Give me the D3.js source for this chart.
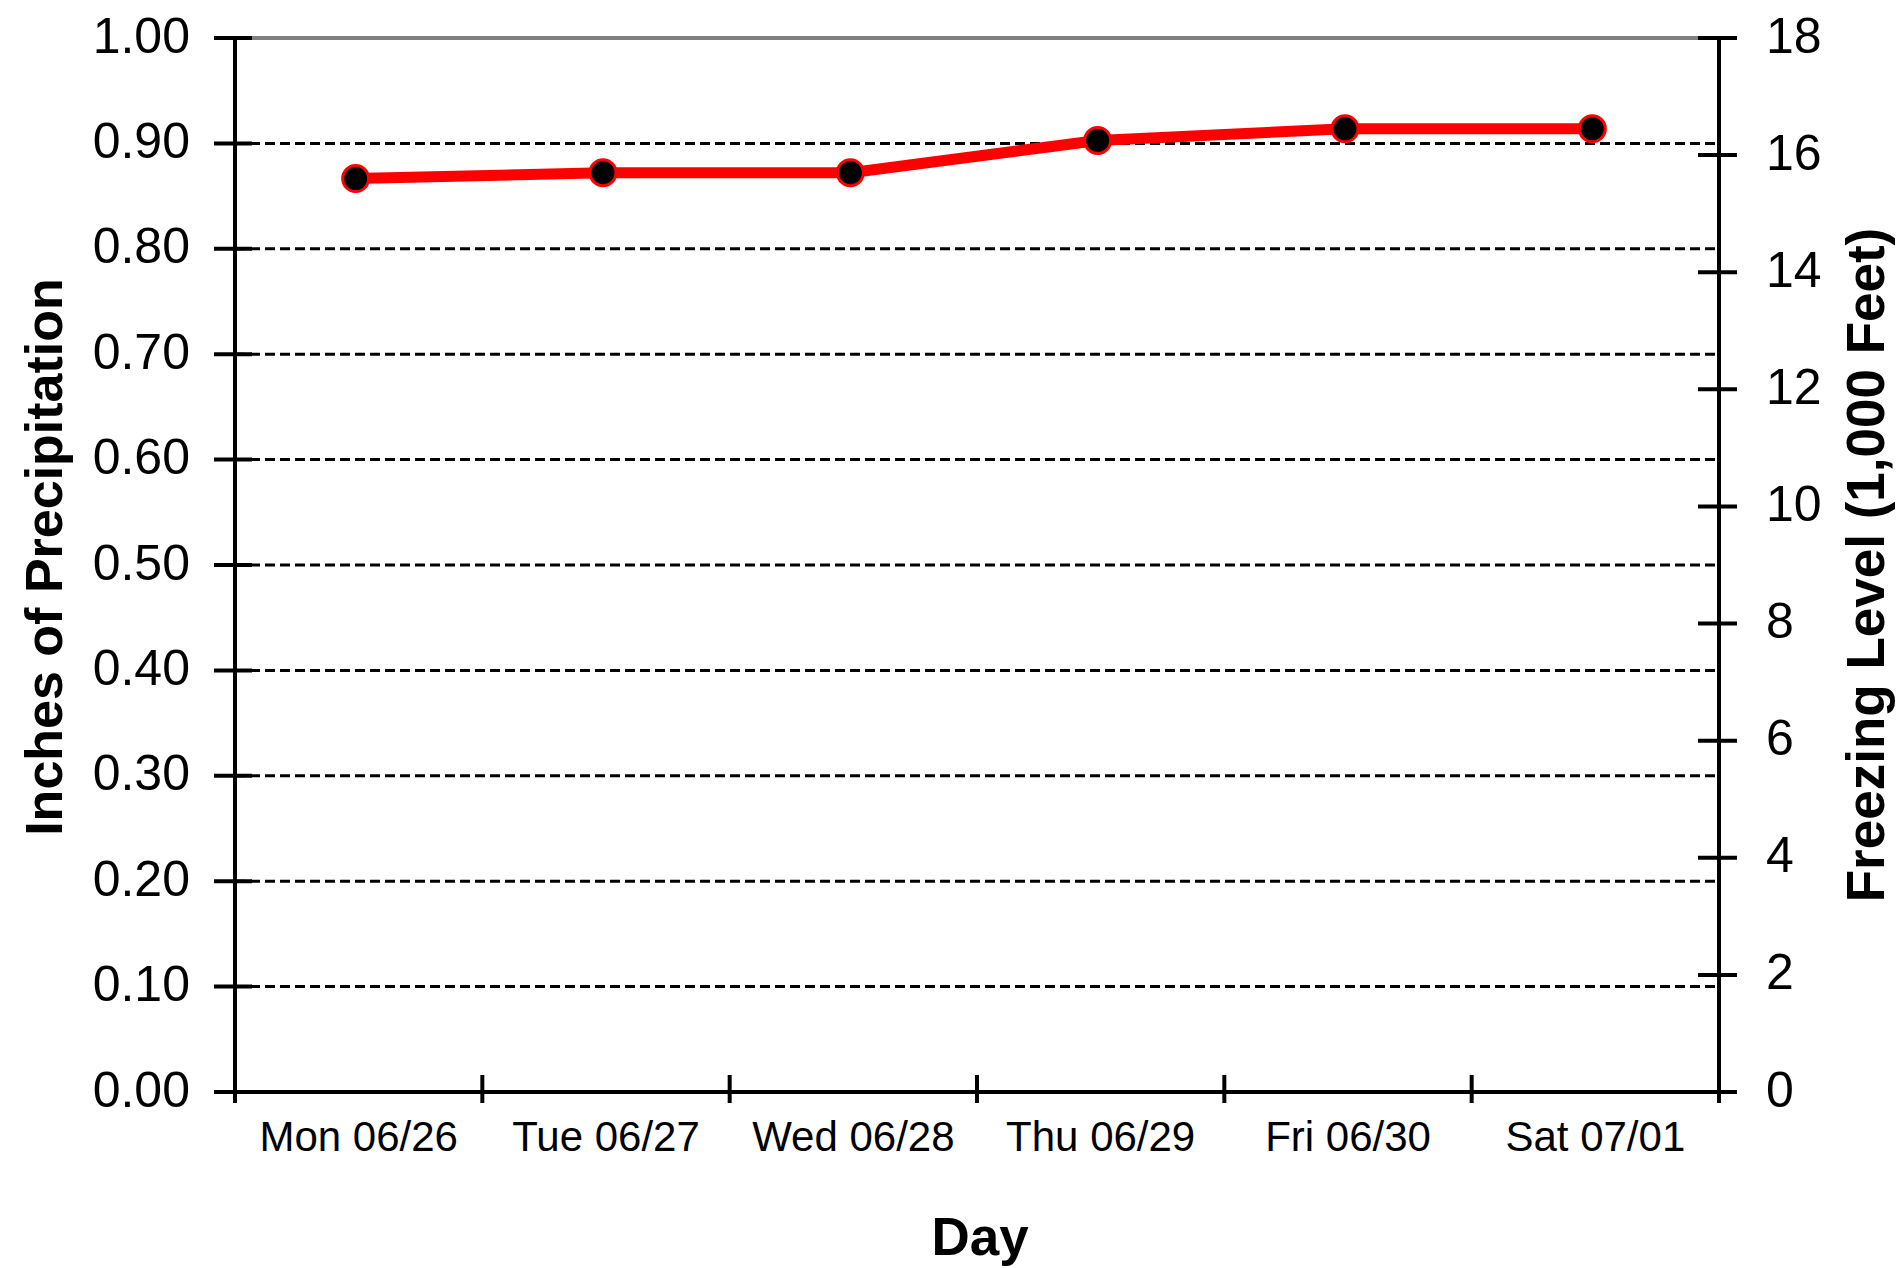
<!DOCTYPE html>
<html>
<head>
<meta charset="utf-8">
<script src="https://cdn.jsdelivr.net/npm/d3@7/dist/d3.min.js"></script>
<style>
  html, body { margin: 0; padding: 0; background: #fff; }
  svg { display: block; }
  text { font-family: "Liberation Sans", Arial, sans-serif; fill: #000; }
</style>
</head>
<body>
<svg id="chart" width="1900" height="1268"></svg>
<script>
// ---- data ----
const days = ["Mon 06/26", "Tue 06/27", "Wed 06/28", "Thu 06/29", "Fri 06/30", "Sat 07/01"];
const freezingLevel = [15.6, 15.7, 15.7, 16.25, 16.45, 16.45]; // thousands of feet
const precipTicks = [0, 0.1, 0.2, 0.3, 0.4, 0.5, 0.6, 0.7, 0.8, 0.9, 1.0];
const freezeTicks = [0, 2, 4, 6, 8, 10, 12, 14, 16, 18];

// ---- layout ----
const L = 235, R = 1719, T = 38, B = 1092;
const svg = d3.select("#chart");

const x = d3.scaleBand().domain(days).range([L, R]).padding(0);
const yL = d3.scaleLinear().domain([0, 1]).range([B, T]);
const yR = d3.scaleLinear().domain([0, 18]).range([B, T]);

// gridlines (dashed)
svg.append("g").selectAll("line")
  .data(precipTicks.filter(v => v > 0 && v < 1))
  .join("line")
  .attr("x1", L).attr("x2", R)
  .attr("y1", d => yL(d)).attr("y2", d => yL(d))
  .attr("stroke", "#000").attr("stroke-width", 3)
  .attr("stroke-dasharray", "10,5");

// top border (gray)
svg.append("line")
  .attr("x1", L).attr("x2", R).attr("y1", T).attr("y2", T)
  .attr("stroke", "#808080").attr("stroke-width", 4);

// left axis
const axL = svg.append("g").attr("transform", `translate(${L},0)`)
  .call(d3.axisLeft(yL).tickValues(precipTicks).tickSize(0).tickPadding(45).tickFormat(d3.format(".2f")));
axL.select(".domain").remove();
axL.selectAll("text").attr("font-size", 50).attr("dy", "0.28em")
  .attr("font-family", "'Liberation Sans', Arial, sans-serif").attr("fill", "#000");
axL.append("line").attr("x1", 0).attr("x2", 0).attr("y1", T).attr("y2", B + 11)
  .attr("stroke", "#000").attr("stroke-width", 4);
axL.selectAll(".tk").data(precipTicks).join("line").attr("class", "tk")
  .attr("x1", -21).attr("x2", 17)
  .attr("y1", d => yL(d)).attr("y2", d => yL(d))
  .attr("stroke", "#000").attr("stroke-width", 4);

// right axis
const axR = svg.append("g").attr("transform", `translate(${R},0)`)
  .call(d3.axisRight(yR).tickValues(freezeTicks).tickSize(0).tickPadding(47).tickFormat(d3.format("d")));
axR.select(".domain").remove();
axR.selectAll("text").attr("font-size", 50).attr("dy", "0.28em")
  .attr("font-family", "'Liberation Sans', Arial, sans-serif").attr("fill", "#000");
axR.append("line").attr("x1", 0).attr("x2", 0).attr("y1", T).attr("y2", B + 11)
  .attr("stroke", "#000").attr("stroke-width", 4);
axR.selectAll(".tk").data(freezeTicks).join("line").attr("class", "tk")
  .attr("x1", -21).attr("x2", 18)
  .attr("y1", d => yR(d)).attr("y2", d => yR(d))
  .attr("stroke", "#000").attr("stroke-width", 4);

// bottom axis
const axB = svg.append("g").attr("transform", `translate(0,${B})`)
  .call(d3.axisBottom(x).tickSize(0).tickPadding(29));
axB.select(".domain").remove();
axB.selectAll("text").attr("font-size", 42).attr("dy", "0.71em")
  .attr("font-family", "'Liberation Sans', Arial, sans-serif").attr("fill", "#000");
axB.append("line").attr("x1", L - 20).attr("x2", R + 18).attr("y1", 0).attr("y2", 0)
  .attr("stroke", "#000").attr("stroke-width", 4);
const bounds = days.map(d => x(d)).concat([R]);
axB.selectAll(".tk").data(bounds).join("line").attr("class", "tk")
  .attr("x1", d => d).attr("x2", d => d)
  .attr("y1", -17).attr("y2", 11)
  .attr("stroke", "#000").attr("stroke-width", 4);

// line series
const pts = days.map((d, i) => [x(d) + x.bandwidth() / 2 - 3, yR(freezingLevel[i])]);
svg.append("path")
  .attr("d", d3.line()(pts))
  .attr("fill", "none").attr("stroke", "#ff0000").attr("stroke-width", 11)
  .attr("stroke-linejoin", "round");
svg.append("g").selectAll("circle").data(pts).join("circle")
  .attr("cx", d => d[0]).attr("cy", d => d[1]).attr("r", 13)
  .attr("fill", "#000").attr("stroke", "#ff0000").attr("stroke-width", 3);

// axis titles
svg.append("text")
  .attr("transform", `translate(62,${(T + B) / 2 - 8}) rotate(-90)`)
  .attr("text-anchor", "middle").attr("font-size", 52).attr("font-weight", "bold")
  .text("Inches of Precipitation");
svg.append("text")
  .attr("transform", `translate(1884,${(T + B) / 2}) rotate(-90)`)
  .attr("text-anchor", "middle").attr("font-size", 53).attr("font-weight", "bold")
  .text("Freezing Level (1,000 Feet)");
svg.append("text")
  .attr("x", 980).attr("y", 1255)
  .attr("text-anchor", "middle").attr("font-size", 53).attr("font-weight", "bold")
  .text("Day");
</script>
</body>
</html>
